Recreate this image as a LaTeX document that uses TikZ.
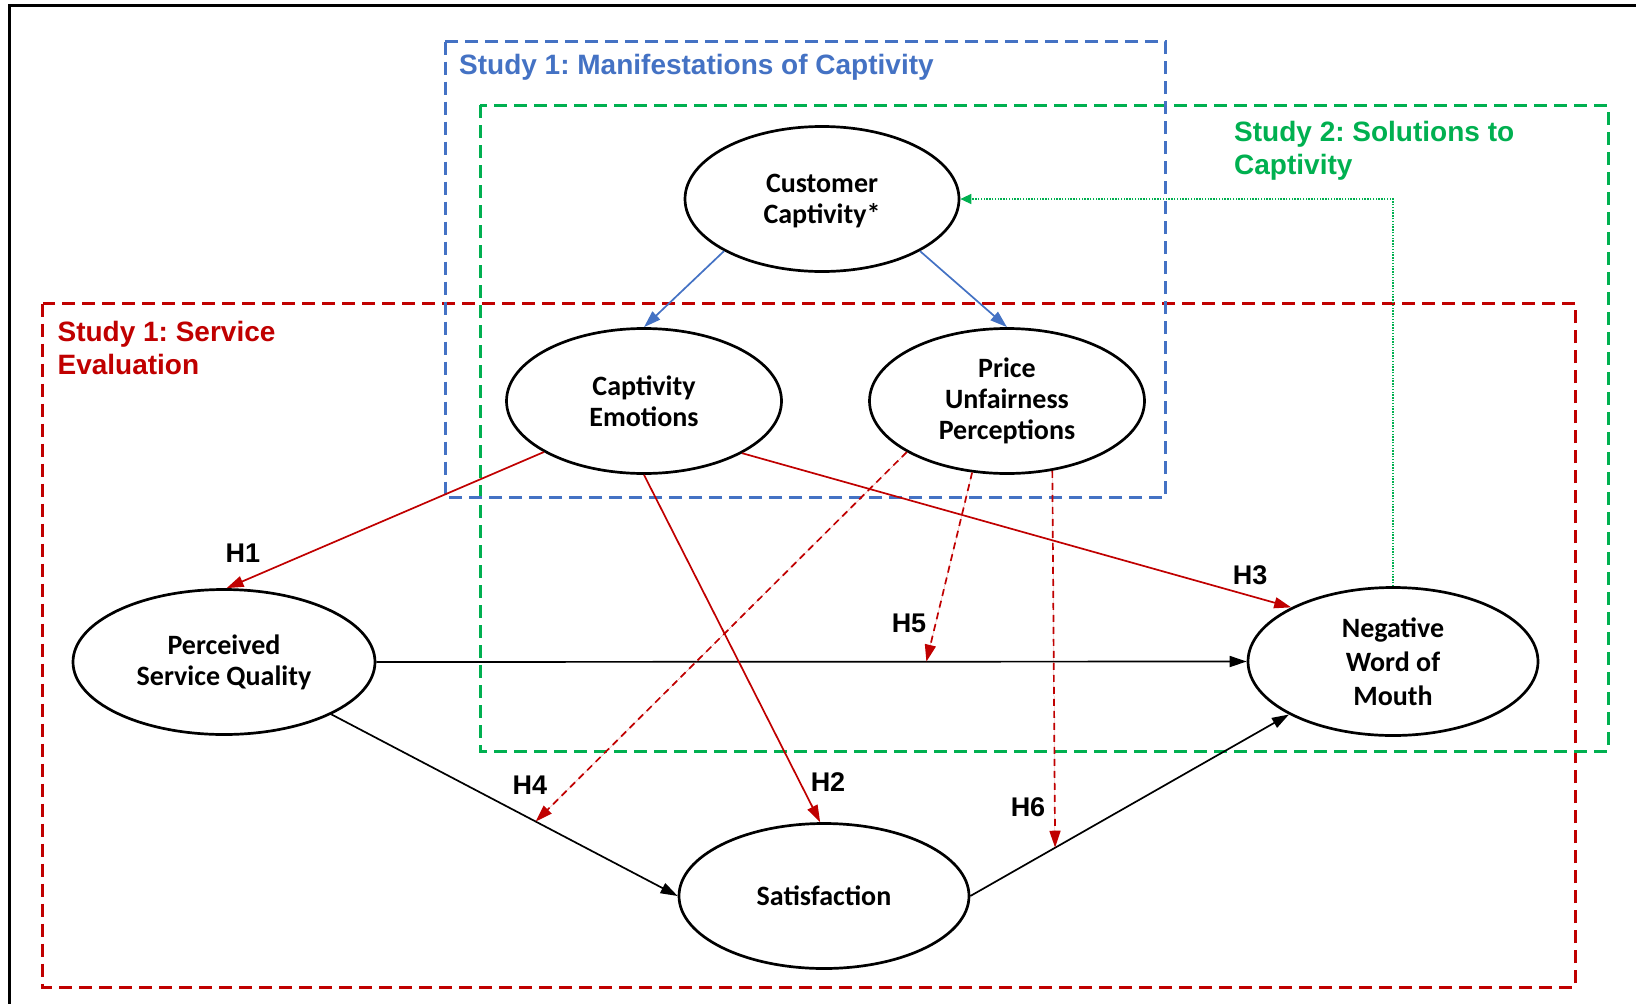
\documentclass[tikz,border=0pt]{standalone}
\usepackage{fontspec}
\setmainfont{Carlito}
\newfontfamily\arialf{Liberation Sans}
\usetikzlibrary{shapes.geometric,arrows.meta}
\definecolor{cblue}{HTML}{4472C4}
\definecolor{cgreen}{HTML}{00B050}
\definecolor{cred}{HTML}{C00000}
\frenchspacing
\begin{document}
\begin{tikzpicture}[x=1pt,y=-1pt,
  latent/.style={ellipse, draw=black, line width=2.7pt, fill=white, inner sep=0pt, align=center,
    font=\fontsize{28}{31}\selectfont\bfseries},
  studybox/.style={line width=3pt, dash pattern=on 13pt off 7pt},
  titletext/.style={anchor=base west, inner sep=0pt, align=left,
    font=\arialf\bfseries\fontsize{28}{33}\selectfont},
  hlab/.style={inner sep=0pt, font=\arialf\bfseries\fontsize{27}{30}\selectfont},
  conn/.style={line width=1.7pt, -{Triangle[length=17pt,width=11pt]}},
  redconn/.style={conn, draw=cred, fill=cred},
  reddash/.style={conn, draw=cred, fill=cred, dash pattern=on 7pt off 5pt},
  blueconn/.style={conn, draw=cblue, fill=cblue},
  greendot/.style={line width=1.3pt, draw=cgreen, dash pattern=on 1.4pt off 1.4pt,
    -{Triangle[length=11pt,width=10pt,fill=cgreen]}}
]
\useasboundingbox (0,0) rectangle (1636,1004);
\fill[white] (0,0) rectangle (1636,1004);
% frame
\draw[line width=3.2pt] (9.5,1004) -- (9.5,5.5) -- (1636,5.5);
% study boxes
\draw[studybox, draw=cred] (42.8,303.6) rectangle (1575.5,987);
\draw[studybox, draw=cgreen] (480,105.4) rectangle (1608,751);
\draw[studybox, draw=cblue] (445,41.7) rectangle (1165.5,497.7);
% titles (base anchor = baseline of last line)
\node[titletext, text=cblue] (t1) at (459,74.7) {Study 1: Manifestations of Captivity};
\node[titletext, text=cgreen] (t2) at (1234,174.5) {Study 2: Solutions to\\Captivity};
\node[titletext, text=cred] (t3) at (57.4,374) {Study 1: Service\\Evaluation};
% nodes
\node[latent, minimum width=274pt, minimum height=145pt, text depth=0pt] (cc) at (822,199) {Customer\\Captivity*};
\node[latent, minimum width=275pt, minimum height=145pt] (ce) at (644,401) {Captivity\\Emotions};
\node[latent, minimum width=275pt, minimum height=145pt] (pup) at (1007,401) {Price\\Unfairness\\Perceptions};
\node[latent, minimum width=302pt, minimum height=145pt] (psq) at (224,662) {Perceived\\Service Quality};
\node[latent, minimum width=290pt, minimum height=148pt, font=\fontsize{28}{34}\selectfont\bfseries] (nwom) at (1393,661.5) {Negative\\Word of\\Mouth};
\node[latent, minimum width=290pt, minimum height=145pt] (sat) at (824,896) {Satisfaction};
% black paths
\draw[conn] (psq.east) -- coordinate[pos=0.632] (h5end) (nwom.west);
\draw[conn] (psq.334.4) -- coordinate[pos=0.59] (h4end) (sat.west);
\draw[conn] (sat.east) -- coordinate[pos=0.266] (h6end) (nwom.207);
% blue paths
\draw[blueconn] (cc.208) -- (ce.north);
\draw[blueconn] (cc.332) -- (pup.north);
% green feedback
\draw[greendot] (nwom.north) |- (cc.east);
% red paths
\draw[redconn] (ce.207.3) -- (psq.88);
\draw[redconn] (ce.332.5) -- (nwom.152.4);
\draw[redconn] (ce.south) -- (sat.93);
\draw[reddash] (pup.207.3) -- (h4end);
\draw[reddash] (pup.244.6) -- (h5end);
\draw[reddash] (pup.303) -- (h6end);
% labels
\node[hlab] (l1) at (243,553) {H1};
\node[hlab] (l2) at (828,782.5) {H2};
\node[hlab] (l3) at (1250,575) {H3};
\node[hlab] (l4) at (530,785) {H4};
\node[hlab] (l5) at (909,623) {H5};
\node[hlab] (l6) at (1028,807.6) {H6};
\end{tikzpicture}
\end{document}
